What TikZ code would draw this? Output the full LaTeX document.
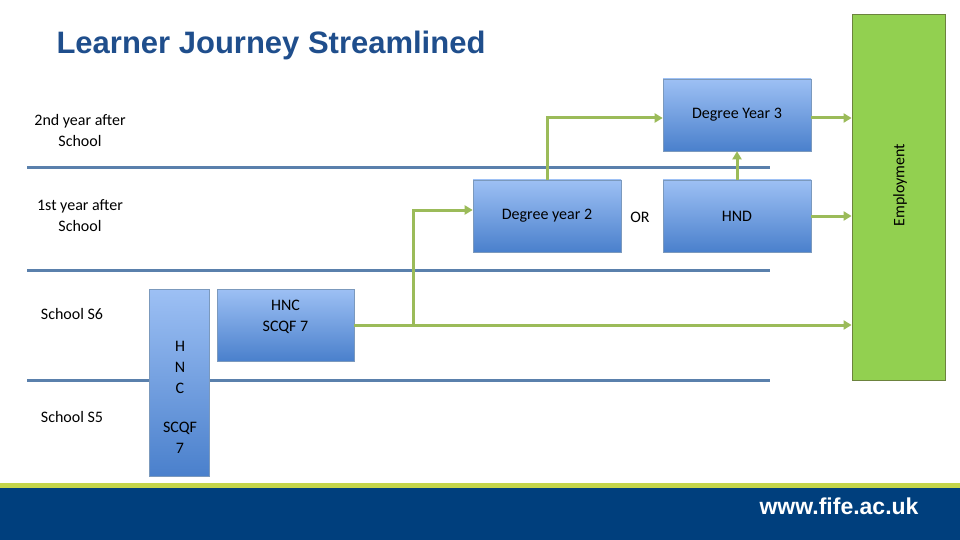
\documentclass[tikz,border=0pt]{standalone}
\usepackage{fontspec}
\setmainfont{Carlito}
\newfontfamily\headf{Liberation Sans}
\usetikzlibrary{arrows.meta}
\definecolor{ttl}{HTML}{1F4E8C}
\definecolor{bline}{HTML}{5A80AC}
\definecolor{gline}{HTML}{9BBB59}
\definecolor{emp}{HTML}{92D050}
\definecolor{navy}{HTML}{003F7D}
\definecolor{ylw}{HTML}{C4D54A}
\definecolor{btop}{HTML}{9DC0F4}
\definecolor{bbot}{HTML}{4A80CC}
\tikzset{
 box/.style={draw=bline!80,line width=0.6pt,top color=btop,bottom color=bbot,inner sep=0pt,align=center,font=\fontsize{16}{21}\selectfont},
 lab/.style={align=center,font=\fontsize{16}{21}\selectfont},
 sep/.style={draw=bline,line width=3pt},
 conn/.style={draw=gline,line width=3pt,-{Triangle[length=8pt,width=9pt]}},
 plain/.style={draw=gline,line width=3pt}
}
\begin{document}
\begin{tikzpicture}[x=1pt,y=-1pt]
\useasboundingbox (0,0) rectangle (960,540);
\node[anchor=west,font=\headf\bfseries\fontsize{31}{34}\selectfont,text=ttl] (title) at (53,45) {Learner Journey Streamlined};
\draw[sep] (27,168) -- (770,168);
\draw[sep] (27,270) -- (770,270);
\draw[sep] (27,380) -- (770,380);
\node[lab] (l1) at (80,131) {2nd year after\\School};
\node[lab] (l2) at (80,216) {1st year after\\School};
\node[lab] (l3) at (72,314) {School S6};
\node[lab] (l4) at (72,417) {School S5};
\node[box,minimum width=60pt,minimum height=187pt] (hncv) at (179,382.5) {};
\node[lab] (hncvt) at (180,397) {H\\N\\C\\[18pt]SCQF\\7};
\node[box,minimum width=137pt,minimum height=72pt] (hnc) at (285.5,325) {};
\node[lab] (hnct) at (285.5,317) {HNC\\SCQF 7};
\node[box,minimum width=148pt,minimum height=72pt] (dy2) at (547,216) {Degree year 2};
\node[lab] (or) at (640,217) {OR};
\node[box,minimum width=148pt,minimum height=72pt] (hnd) at (737,216) {HND};
\node[box,minimum width=148pt,minimum height=72pt] (dy3) at (737,115) {Degree Year 3};
\node[draw=gline!70!black,line width=0.8pt,fill=emp,minimum width=93pt,minimum height=366pt,inner sep=0pt] (emp) at (898.5,197) {};
\node[rotate=90,font=\fontsize{16}{18}\selectfont] (empt) at (900,185) {Employment};
\coordinate (j1) at (413,325);
\draw[conn] (hnc.east) -- (j1) |- (dy2.west |- 0,210);
\draw[conn] (hnc.east) -- (emp.west |- 0,325);
\draw[conn] (dy2.north) |- (dy3.west |- 0,118);
\draw[conn] (hnd.north) -- (dy3.south);
\draw[conn] (dy3.east |- 0,118) -- (emp.west |- 0,118);
\draw[conn] (hnd.east) -- (emp.west |- 0,216);
\fill[ylw] (0,483) rectangle (960,488);
\fill[navy] (0,488) rectangle (960,540);
\node[anchor=east,text=white,font=\headf\bfseries\fontsize{23}{26}\selectfont] (url) at (922,506) {www.fife.ac.uk};
\end{tikzpicture}
\end{document}
